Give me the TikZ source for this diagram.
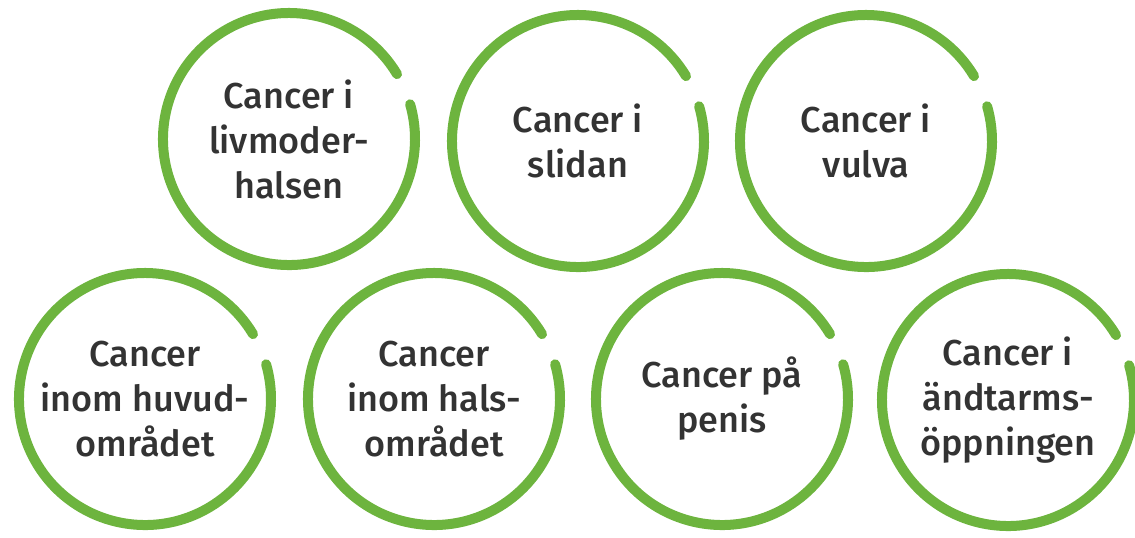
\documentclass[tikz,border=0pt]{standalone}
\usepackage{fontspec}
\setmainfont{Fira Sans}[BoldFont={Fira Sans Medium}]
\definecolor{ringgreen}{RGB}{109,180,62}
\definecolor{textgray}{RGB}{51,51,51}

\begin{document}
\begin{tikzpicture}[x=0.5pt,y=0.5pt,
  disease/.style={align=center,text=textgray,
    font=\bfseries\fontsize{18}{22.5}\selectfont},
  ring/.style={draw=ringgreen,line width=5pt,line cap=round}]
  % Page in pixels: 1135 x 537, y counted downward.
  \useasboundingbox (0,0) rectangle (1135,-537);

  % Top row.
  \node[disease] (cervix) at (289,-139) {Cancer i\\livmoder-\\halsen};
  \node[disease] (vagina) at (578,-141) {Cancer i\\slidan};
  \node[disease] (vulva)  at (866,-141) {Cancer i\\vulva};

  % Bottom row.
  \node[disease] (head)   at (145,-399) {Cancer\\inom huvud-\\området};
  \node[disease] (throat) at (434,-399) {Cancer\\inom hals-\\området};
  \node[disease] (penis)  at (722,-399) {Cancer på\\penis};
  \node[disease] (anus)   at (1008,-400) {Cancer i\\ändtarms-\\öppningen};

  % Open rings, gap at upper right.
  \foreach \n in {cervix,vagina,vulva,head,throat,penis,anus}{
    \draw[ring] (\n.center) ++(31:126) arc[start angle=31,end angle=376,radius=126];
  }
\end{tikzpicture}
\end{document}
